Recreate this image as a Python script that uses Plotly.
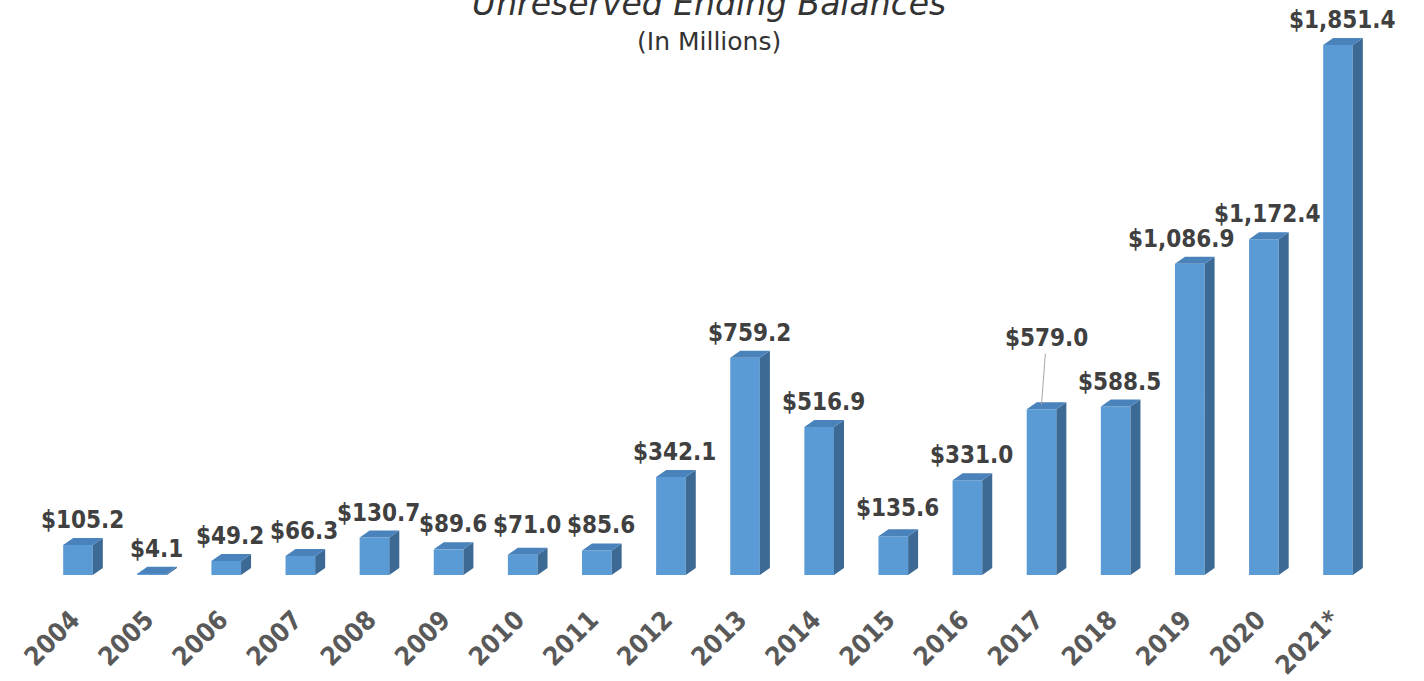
import plotly.graph_objects as go

years = ["2004", "2005", "2006", "2007", "2008", "2009", "2010", "2011", "2012",
         "2013", "2014", "2015", "2016", "2017", "2018", "2019", "2020", "2021*"]
balances = [105.2, 4.1, 49.2, 66.3, 130.7, 89.6, 71.0, 85.6, 342.1,
            759.2, 516.9, 135.6, 331.0, 579.0, 588.5, 1086.9, 1172.4, 1851.4]
labels = ["$" + f"{v:,.1f}" for v in balances]

title_text = "Unreserved Ending Balances"
subtitle_text = "(In Millions)"

# geometry (styles)
W = 681
H_PLOT = 575
PX_PER_UNIT = 0.2863
X_PX = 74.12
BAR_W = 0.40
DEPTH_X = 10 / X_PX
DEPTH_Y = 7 / PX_PER_UNIT

FRONT = "#5B9BD5"
SIDE = "#3C6A94"
TOP = "#4A83BC"

idx = list(range(len(years)))

fig = go.Figure()
fig.add_trace(go.Bar(x=idx, y=balances, width=BAR_W,
                     marker=dict(color=FRONT, line=dict(width=0)),
                     hoverinfo="skip"))

sx, sy, tx, ty = [], [], [], []
for i, v in zip(idx, balances):
    r = i + BAR_W / 2
    l = i - BAR_W / 2
    sx += [r, r + DEPTH_X, r + DEPTH_X, r, r, None]
    sy += [0, DEPTH_Y, v + DEPTH_Y, v, 0, None]
    tx += [l, r, r + DEPTH_X, l + DEPTH_X, l, None]
    ty += [v, v, v + DEPTH_Y, v + DEPTH_Y, v, None]

fig.add_trace(go.Scatter(x=sx, y=sy, mode="lines", fill="toself",
                         fillcolor=SIDE, line=dict(width=0, color=SIDE),
                         hoverinfo="skip"))
fig.add_trace(go.Scatter(x=tx, y=ty, mode="lines", fill="toself",
                         fillcolor=TOP, line=dict(width=0, color=TOP),
                         hoverinfo="skip"))

label_font = dict(family="DejaVu Sans Condensed", size=24, color="#404040", weight="bold")
yshift_over = {6: 14, 11: 12}
xshift_over = {15: -12}
for i, (v, t) in enumerate(zip(balances, labels)):
    if i == 13:
        fig.add_annotation(x=i, y=v + DEPTH_Y * 0.7, text=t, showarrow=True,
                           arrowhead=0, arrowwidth=1, arrowcolor="#A6A6A6",
                           ax=5, ay=-66, font=label_font, standoff=0)
        continue
    fig.add_annotation(x=i, y=v, text=t, showarrow=False, yanchor="bottom",
                       xshift=4 + xshift_over.get(i, 0),
                       yshift=yshift_over.get(i, 9), font=label_font)

fig.add_annotation(x=0.498, y=1, xref="paper", yref="paper", text="<i>" + title_text + "</i>",
                   showarrow=False, yanchor="middle", yshift=-3,
                   font=dict(family="DejaVu Sans", size=33, color="#333333"))
fig.add_annotation(x=0.498, y=1, xref="paper", yref="paper", text=subtitle_text,
                   showarrow=False, yanchor="middle", yshift=-41,
                   font=dict(family="DejaVu Sans", size=25, color="#333333"))

x0 = -78 / X_PX
x1 = 17 + (1424 - 1338) / X_PX
fig.update_layout(
    width=1424, height=W,
    margin=dict(l=0, r=0, t=0, b=W - H_PLOT, autoexpand=False),
    paper_bgcolor="white", plot_bgcolor="white",
    showlegend=False,
    xaxis=dict(range=[x0, x1], tickvals=idx, ticktext=years, tickangle=-45,
               showgrid=False, zeroline=False, showline=False, automargin=False,
               ticks="outside", ticklen=18, tickcolor="rgba(0,0,0,0)",
               ticklabelshift=-6,
               tickfont=dict(family="DejaVu Sans Condensed", size=26, color="#595959", weight="bold"),
               fixedrange=True),
    yaxis=dict(range=[0, H_PLOT / PX_PER_UNIT], visible=False, fixedrange=True,
               automargin=False),
)

fig.write_html("out.html")
